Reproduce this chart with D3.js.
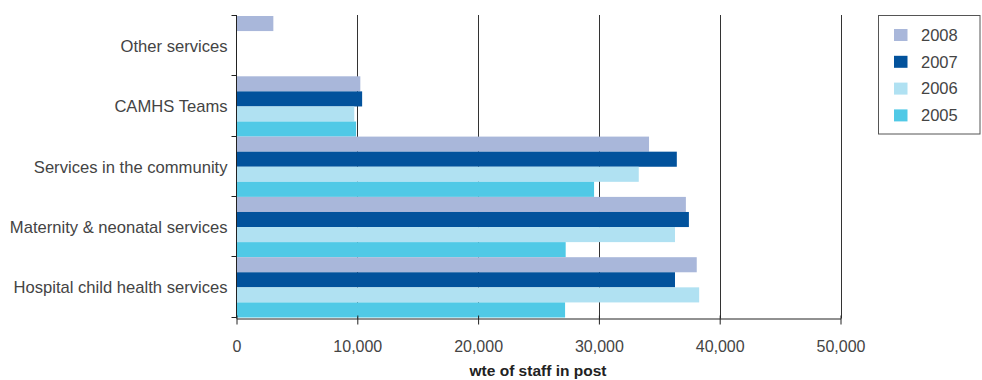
<!DOCTYPE html>
<html><head><meta charset="utf-8">
<script src="https://cdn.jsdelivr.net/npm/d3@7"></script>
<style>
html,body{margin:0;padding:0;background:#fff;}
svg{display:block;font-family:"Liberation Sans",Arial,Helvetica,sans-serif;}
</style></head>
<body><svg id="chart" width="982" height="380"></svg>
<script>
const categories = ["Other services","CAMHS Teams","Services in the community","Maternity & neonatal services","Hospital child health services"];
const years = ["2008","2007","2006","2005"];
const v2008 = [3050, 10250, 34150, 37200, 38100];
const v2007 = [0, 10400, 36450, 37450, 36300];
const v2006 = [0, 9750, 33300, 36300, 38300];
const v2005 = [0, 9900, 29600, 27250, 27200];
const xTicks = [0,10000,20000,30000,40000,50000];
const colors = ["#a9b7da","#02529c","#b0e1f2","#50c9e6"];
const seriesValues = [v2008, v2007, v2006, v2005];

const svg = d3.select("#chart");
const x = d3.scaleLinear().domain([0,50000]).range([236.5,840.5]);
const y = d3.scaleBand().domain(categories).range([16,317.5]).paddingInner(0).paddingOuter(0);
const y1 = d3.scaleBand().domain(years).range([0,y.bandwidth()]).padding(0);

// gridlines
svg.append("g").selectAll("line").data(xTicks.slice(1)).join("line")
  .attr("x1",d=>Math.round(x(d))+0.5).attr("x2",d=>Math.round(x(d))+0.5)
  .attr("y1",15).attr("y2",318.5)
  .attr("stroke","#333").attr("stroke-width",1);

// bars
const g = svg.append("g");
categories.forEach((c,i)=>{
  years.forEach((yr,j)=>{
    const val = seriesValues[j][i];
    if(!val) return;
    g.append("rect")
      .attr("x",x(0)).attr("y",y(c)+y1(yr))
      .attr("width",x(val)-x(0)).attr("height",y1.bandwidth())
      .attr("fill",colors[j]);
  });
});

// bottom axis
const xAxis = svg.append("g").attr("transform","translate(0,318.5)")
  .call(d3.axisBottom(x).tickValues(xTicks).tickFormat(d3.format(",")).tickSizeInner(6).tickSizeOuter(0).tickPadding(16));
xAxis.select(".domain").attr("stroke","#222");
xAxis.selectAll(".tick line").attr("stroke","#222").attr("y1",-3);
xAxis.selectAll(".tick text").attr("fill","#444").attr("font-size","16px").attr("font-family","Liberation Sans, Arial, sans-serif");

// left axis
const leftAxis = svg.append("g").attr("transform","translate(236.5,0)");
leftAxis.append("line").attr("x1",0).attr("x2",0).attr("y1",15).attr("y2",318.5).attr("stroke","#222");
const bounds = categories.map(c=>y(c)).concat([y.range()[1]]);
leftAxis.selectAll("line.tk").data(bounds).join("line").attr("class","tk")
  .attr("x1",-5).attr("x2",0).attr("y1",d=>Math.round(d)-0.5).attr("y2",d=>Math.round(d)-0.5)
  .attr("stroke","#222");
leftAxis.selectAll("text").data(categories).join("text")
  .attr("x",-9).attr("y",d=>y(d)+y.bandwidth()/2)
  .attr("dy","0.35em").attr("text-anchor","end")
  .attr("font-size","16.6px").attr("fill","#444").text(d=>d);

// axis title
svg.append("text").attr("x",538).attr("y",375.5).attr("text-anchor","middle")
  .attr("font-size","15.5px").attr("font-weight","bold").attr("fill","#222").text("wte of staff in post");

// legend
const lg = svg.append("g");
lg.append("rect").attr("x",878.5).attr("y",15.5).attr("width",101.5).attr("height",118.5)
  .attr("fill","none").attr("stroke","#555").attr("stroke-width",1);
years.forEach((yr,j)=>{
  const yy = 29 + j*26.8;
  lg.append("rect").attr("x",894).attr("y",yy).attr("width",13.5).attr("height",12).attr("fill",colors[j]);
  lg.append("text").attr("x",921).attr("y",yy+6).attr("dy","0.35em")
    .attr("font-size","16.5px").attr("fill","#444").text(yr);
});
</script>
</body></html>
